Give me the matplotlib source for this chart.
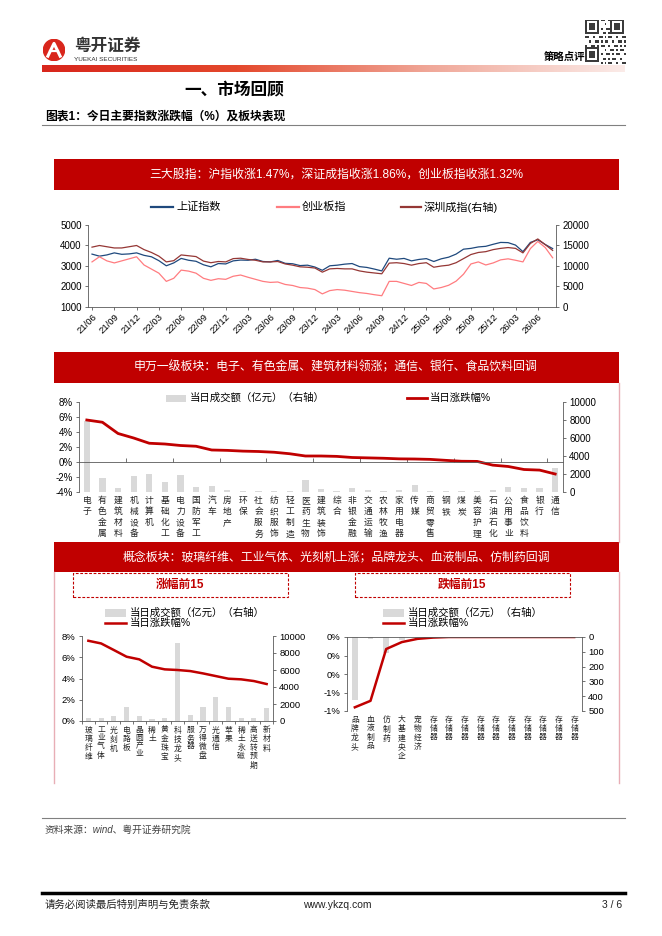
import numpy as np
import matplotlib
matplotlib.use('Agg')
import matplotlib.pyplot as plt
from matplotlib.patches import Rectangle, Circle
from matplotlib.lines import Line2D
from matplotlib.colors import LinearSegmentedColormap
from matplotlib.ticker import FuncFormatter

plt.rcParams['font.family'] = ['Liberation Sans', 'Noto Sans CJK SC']
plt.rcParams['axes.unicode_minus'] = False

# ---- data: three indices, monthly, 21/06 .. 26/08 ----
date_ticks = ['21/06', '21/09', '21/12', '22/03', '22/06', '22/09', '22/12',
              '23/03', '23/06', '23/09', '23/12', '24/03', '24/06', '24/09',
              '24/12', '25/03', '25/06', '25/09', '25/12', '26/03', '26/06']
sse = [3580, 3480, 3540, 3640, 3570, 3590, 3640,
       3520, 3450, 3260, 3010, 3150, 3370, 3280, 3230, 3060, 2960, 3120, 3100,
       3250, 3290, 3280, 3330, 3220, 3200, 3270, 3130, 3110, 3020, 3040, 2950,
       2790, 3010, 3040, 3090, 3120, 2970, 2930, 2850, 2760, 3380, 3330, 3370,
       3250, 3320, 3360, 3220, 3350, 3430, 3580, 3820, 3860, 3930, 3960, 4060,
       4150, 4140, 4020, 3700, 4150, 4280, 4050, 3850]
cyb = [3200, 3450, 3250, 3150, 3250, 3350, 3450,
       3050, 2850, 2650, 2250, 2400, 2800, 2750, 2650, 2400, 2300, 2380, 2350,
       2500, 2560, 2450, 2350, 2250, 2200, 2220, 2100, 2050, 1950, 1920, 1850,
       1640, 1800, 1850, 1820, 1760, 1700, 1660, 1600, 1550, 2250, 2250, 2150,
       2050, 2200, 2150, 1880, 1950, 2060, 2260, 2600, 3100, 3200, 3050, 3150,
       3300, 3350, 3280, 3200, 3850, 4200, 3900, 3400]
szc = [14600, 15000, 14700, 14400, 14400, 14700, 15000,
       14000, 13300, 12400, 11000, 11300, 12700, 12500, 12300, 11200, 10800, 11100, 11000,
       11800, 11900, 11600, 11400, 11000, 11000, 11100, 10500, 10200, 9800, 9700, 9500,
       8500, 9300, 9400, 9300, 9300, 8800, 8500, 8300, 8100, 10700, 10800, 10600,
       10200, 10600, 10800, 9700, 10000, 10200, 10800, 11800, 12800, 13300, 13500, 14000,
       14300, 14500, 14300, 13200, 15500, 16600, 15200, 13800]

# ---- SW level-1 industries ----
sw_names = ['电子', '有色金属', '建筑材料', '机械设备', '计算机', '基础化工', '电力设备',
            '国防军工', '汽车', '房地产', '环保', '社会服务', '纺织服饰', '轻工制造',
            '医药生物', '建筑装饰', '综合', '非银金融', '交通运输', '农林牧渔', '家用电器',
            '传媒', '商贸零售', '钢铁', '煤炭', '美容护理', '石油石化', '公用事业',
            '食品饮料', '银行', '通信']
sw_chg = [5.6, 5.3, 3.8, 3.2, 2.5, 2.4, 2.2, 2.1, 1.6, 1.55, 1.45, 1.4, 1.3, 1.1,
          0.8, 0.8, 0.75, 0.6, 0.55, 0.5, 0.42, 0.4, 0.35, 0.22, 0.1, 0.08,
          -0.42, -0.6, -1.0, -1.08, -1.6]
sw_amt = [7900, 1600, 400, 1820, 1960, 1110, 1850, 560, 670, 190, 150, 150, 110, 150,
          1370, 330, 80, 440, 190, 150, 190, 780, 150, 110, 110, 110, 190, 560,
          410, 410, 2700]

# ---- concept boards: top 15 gainers ----
up_names = ['玻璃纤维', '工业气体', '光刻机', '电路板', '晶圆产业', '稀土', '黄金珠宝',
            '科技龙头', '服务器', '万得微盘', '光通信', '苹果', '稀土永磁', '高送转预期', '新材料']
up_chg = [7.55, 7.3, 6.68, 6.05, 5.8, 5.11, 4.86, 4.8, 4.7, 4.48, 4.23, 3.98, 3.92, 3.76, 3.48]
up_amt = [300, 300, 590, 1600, 590, 200, 310, 9200, 700, 1600, 2800, 1600, 310, 310, 1570]

# ---- concept boards: top 15 losers ----
dn_names = ['品牌龙头', '血液制品', '仿制药', '大基建央企', '宠物经济'] + ['存储器'] * 10
dn_chg = [-0.76, -0.69, -0.13, -0.055, -0.02, -0.006, 0, 0, 0, 0, 0, 0, 0, 0, 0]
dn_amt = [425, 16, 110, 22, 5, 1, 0, 0, 0, 0, 0, 0, 0, 0, 0]

RED = '#C00000'
GREY_BAR = '#D9D9D9'
SPINE = '#595959'
PINK = '#E8AEB6'

W, H = 662, 936
fig = plt.figure(figsize=(W / 100, H / 100), dpi=100)


def box(x0, y0, x1, y1):
    return fig.add_axes([x0 / W, 1 - y1 / H, (x1 - x0) / W, (y1 - y0) / H])


def ftext(x, y, s, **kw):
    fig.text(x / W, 1 - y / H, s, **kw)


def frect(x0, y0, x1, y1, **kw):
    fig.add_artist(Rectangle((x0 / W, 1 - y1 / H), (x1 - x0) / W, (y1 - y0) / H,
                             transform=fig.transFigure, **kw))


def fline(xs, ys, **kw):
    fig.add_artist(Line2D([x / W for x in xs], [1 - y / H for y in ys],
                          transform=fig.transFigure, **kw))


def style(ax, ax2, fs=7):
    for s in ['top', 'right']:
        ax.spines[s].set_visible(False)
    for s in ['top', 'left', 'bottom']:
        ax2.spines[s].set_visible(False)
    for a in (ax, ax2):
        for s in a.spines.values():
            s.set_color(SPINE)
            s.set_linewidth(0.6)
        a.tick_params(labelsize=fs, width=0.6, length=2.5, color=SPINE, pad=2)


def vlabels(ax, names, fs, off=-3.5, ls=1.25):
    for i, n in enumerate(names):
        ax.annotate('\n'.join(n), xy=(i, 0), xycoords=('data', 'axes fraction'),
                    xytext=(0, off), textcoords='offset points', ha='center', va='top',
                    fontsize=fs, linespacing=ls, color='#222222')


pct = FuncFormatter(lambda v, p: f'{v:.0f}%')


def pct0(v, p):
    s = f'{v:.0f}'
    if s == '-0':
        s = '0'
    return s + '%'


# ---------------- header ----------------
lg = box(43, 39, 65, 61)
lg.set_xlim(0, 1)
lg.set_ylim(0, 1)
lg.set_aspect('equal')
lg.axis('off')
lg.add_patch(Circle((0.5, 0.5), 0.48, color='#D9261C'))
lg.plot([0.22, 0.5, 0.78], [0.22, 0.8, 0.22], color='white', lw=2.2)
lg.plot([0.3, 0.7], [0.45, 0.45], color='white', lw=1.6)
ftext(74, 46, '粤开证券', fontsize=12, fontweight='bold', color='#333333', va='center')
ftext(74, 59.5, 'YUEKAI SECURITIES', fontsize=4.6, color='#333333', va='center')
ftext(544, 57, '策略点评', fontsize=7.5, fontweight='bold', va='center')

qr = box(585, 20, 626, 64)
q = np.zeros((21, 21))
for i in range(21):
    for j in range(21):
        q[i, j] = 1 if ((i * 3 + j * 5 + i * j) % 4 == 0 or ((i + j) % 3 == 0 and i % 2 == 0)) else 0
for r, c in [(0, 0), (0, 13), (13, 0)]:
    q[r:r + 8, c:c + 8] = 0
    q[r:r + 7, c:c + 7] = 1
    q[r + 1:r + 6, c + 1:c + 6] = 0
    q[r + 2:r + 5, c + 2:c + 5] = 1
qr.imshow(q, cmap='gray_r', interpolation='nearest', aspect='auto', vmin=0, vmax=1.3)
qr.axis('off')

gb = box(42, 65, 625, 72)
cmap = LinearSegmentedColormap.from_list('bar', ['#D8261C', '#E4482C', '#F0A899', '#FBEBE8'])
gb.imshow(np.linspace(0, 1, 256).reshape(1, -1), cmap=cmap, aspect='auto')
gb.axis('off')

ftext(234, 90, '一、市场回顾', fontsize=12, fontweight='bold', ha='center', va='center')
ftext(45, 117, '图表1：今日主要指数涨跌幅（%）及板块表现', fontsize=8.5, fontweight='bold', va='center')
fline([42, 625], [125, 125], color='#808080', lw=0.8)

# ---------------- banners and frames ----------------
banners = [(159, 190, '三大股指：沪指收涨1.47%，深证成指收涨1.86%，创业板指收涨1.32%'),
           (352, 383, '申万一级板块：电子、有色金属、建筑材料领涨；通信、银行、食品饮料回调'),
           (542, 572, '概念板块：玻璃纤维、工业气体、光刻机上涨；品牌龙头、血液制品、仿制药回调')]
for y0, y1, t in banners:
    frect(54, y0, 619, y1, color=RED, lw=0)
    ftext(336, (y0 + y1) / 2, t, color='white', fontsize=8.6, ha='center', va='center')
fline([619, 619], [383, 542], color=PINK, lw=1)
fline([54, 54], [572, 783], color=PINK, lw=1)
fline([619, 619], [572, 783], color=PINK, lw=1)

# ---------------- chart 1: indices ----------------
x = np.arange(len(sse))
ax = box(88, 225, 556, 307)
ax2 = ax.twinx()
ax.plot(x, sse, color='#1F497D', lw=0.9)
ax.plot(x, cyb, color='#FF7C80', lw=0.9)
ax2.plot(x, szc, color='#953735', lw=0.9)
ax.set_ylim(1000, 5000)
ax.set_yticks(range(1000, 5001, 1000))
ax2.set_ylim(0, 20000)
ax2.set_yticks(range(0, 20001, 5000))
ax.set_xlim(-0.54, 62.45)
ax.set_xticks(range(0, 61, 3))
ax.set_xticklabels(date_ticks, rotation=45, ha='right', rotation_mode='anchor')
style(ax, ax2)
ax.tick_params(axis='x', labelsize=6.8, pad=1)

leg1 = [(151, 173, '#1F497D', '上证指数'), (277, 299, '#FF7C80', '创业板指'),
        (401, 421, '#953735', '深圳成指(右轴)')]
for a, b, c, t in leg1:
    fline([a, b], [207, 207], color=c, lw=1.6)
    ftext(b + 3, 207, t, fontsize=8, va='center')

# ---------------- chart 2: SW industries ----------------
ax = box(79, 402, 563, 492)
ax2 = ax.twinx()
ax.set_zorder(ax2.get_zorder() + 1)
ax.patch.set_visible(False)
xs = np.arange(len(sw_names))
ax2.bar(xs, sw_amt, width=0.4, color=GREY_BAR)
ax.plot(xs, sw_chg, color=RED, lw=2)
ax.set_ylim(-4, 8)
ax.set_yticks(range(-4, 9, 2))
ax.yaxis.set_major_formatter(pct)
ax2.set_ylim(0, 10000)
ax2.set_yticks(range(0, 10001, 2000))
ax.set_xlim(-0.5, len(sw_names) - 0.5)
style(ax, ax2)
ax.spines['bottom'].set_position(('data', 0))
ax.set_xticks(np.arange(2.5, len(sw_names), 3))
ax.tick_params(axis='x', direction='in', labelbottom=False, length=3)
vlabels(ax, sw_names, 6.3, off=-3, ls=1.3)

fig.add_artist(Rectangle((166 / W, 1 - 402 / H), 20 / W, 7 / H, transform=fig.transFigure,
                         color=GREY_BAR, lw=0))
ftext(190, 398, '当日成交额（亿元）（右轴）', fontsize=7.5, va='center')
fline([407, 427], [398, 398], color=RED, lw=2)
ftext(430, 398, '当日涨跌幅%', fontsize=7.5, va='center')

# ---------------- chart 3: concept boards ----------------
for (bx0, bx1, title) in [(73, 288, '涨幅前15'), (355, 570, '跌幅前15')]:
    frect(bx0, 573, bx1, 597, fill=False, edgecolor=RED, lw=0.8, linestyle=(0, (2.5, 1.5)))
    ftext((bx0 + bx1) / 2, 585, title, color=RED, fontsize=8.5, fontweight='bold',
          ha='center', va='center')

for lx in (105, 383):
    frect(lx, 609, lx + 21, 617, color=GREY_BAR, lw=0)
    ftext(lx + 25, 613, '当日成交额（亿元）（右轴）', fontsize=7.5, va='center')
    fline([lx, lx + 21], [623, 623], color=RED, lw=1.8)
    ftext(lx + 25, 623, '当日涨跌幅%', fontsize=7.5, va='center')

# gainers
ax = box(82, 636, 273, 721)
ax2 = ax.twinx()
ax.set_zorder(ax2.get_zorder() + 1)
ax.patch.set_visible(False)
xs = np.arange(len(up_names))
ax2.bar(xs, up_amt, width=0.4, color=GREY_BAR)
ax.plot(xs, up_chg, color=RED, lw=1.8)
ax.set_ylim(0, 8)
ax.set_yticks(range(0, 9, 2))
ax.yaxis.set_major_formatter(pct)
ax2.set_ylim(0, 10000)
ax2.set_yticks(range(0, 10001, 2000))
ax.set_xlim(-0.5, len(up_names) - 0.5)
style(ax, ax2, fs=6.8)
ax.set_xticks(np.arange(-0.5, len(up_names), 1))
ax.tick_params(axis='x', labelbottom=False, length=2.5)
vlabels(ax, up_names, 5.6, off=-4, ls=1.2)

# losers
ax = box(347, 637, 582, 711)
ax2 = ax.twinx()
ax.set_zorder(ax2.get_zorder() + 1)
ax.patch.set_visible(False)
xs = np.arange(len(dn_names))
ax2.bar(xs, dn_amt, width=0.35, color=GREY_BAR)
ax.plot(xs, dn_chg, color=RED, lw=1.8)
ax.set_ylim(-0.8, 0)
ax.set_yticks([0, -0.2, -0.4, -0.6, -0.8])
ax.yaxis.set_major_formatter(FuncFormatter(pct0))
ax2.set_ylim(500, 0)
ax2.set_yticks(range(0, 501, 100))
ax.set_xlim(-0.5, len(dn_names) - 0.5)
style(ax, ax2, fs=6.8)
ax.spines['top'].set_visible(True)
ax.spines['bottom'].set_visible(False)
ax.set_xticks([])
vlabels(ax, dn_names, 5.6, off=-4, ls=1.2)

# ---------------- footer ----------------
fline([42, 625], [818, 818], color='#808080', lw=0.8)
ftext(45, 830, '资料来源：wind、粤开证券研究院', fontsize=7, style='italic', color='#444444',
      va='center')
fline([42, 625], [893, 893], color='black', lw=2.5)
ftext(45, 905, '请务必阅读最后特别声明与免责条款', fontsize=7.5, va='center', color='#222222')
ftext(337, 905, 'www.ykzq.com', fontsize=7.5, ha='center', va='center', color='#222222')
ftext(622, 905, '3 / 6', fontsize=7.5, ha='right', va='center', color='#222222')

fig.savefig('out.png', dpi=100)
